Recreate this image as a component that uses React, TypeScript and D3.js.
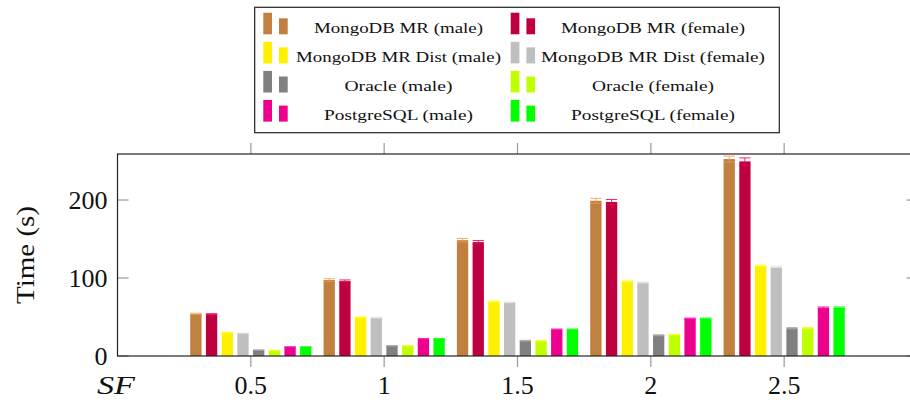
import React from "react";
import * as d3 from "d3";

const sfValues = [0.5, 1, 1.5, 2, 2.5];
const mongoMale = [54, 97.5, 148.5, 199, 252.5];
const mongoFemale = [53.5, 96, 146, 197.5, 249.5];
const distMale = [30, 49.5, 69.5, 95.5, 115.5];
const distFemale = [29.5, 49.5, 69, 94.5, 114.5];
const oracleMale = [7.5, 13, 19.5, 26.5, 35.5];
const oracleFemale = [7, 13, 19, 27, 35.5];
const pgMale = [11.5, 22, 34, 48, 62];
const pgFemale = [11.5, 22, 34, 48, 62];

const mongoMaleErr = [0.8, 1.6, 2.2, 3.2, 3.8];
const mongoFemaleErr = [0.8, 1.5, 2, 3.2, 4.5];
const smallErr = [0.4, 0.5, 0.6, 0.7, 0.9];

const seriesNames = [
  "MongoDB MR (male)",
  "MongoDB MR (female)",
  "MongoDB MR Dist (male)",
  "MongoDB MR Dist (female)",
  "Oracle (male)",
  "Oracle (female)",
  "PostgreSQL (male)",
  "PostgreSQL (female)",
];
const seriesColors = [
  "#BF8040",
  "#BF0040",
  "#FFF000",
  "#BFBFBF",
  "#808080",
  "#BFFF00",
  "#EC008C",
  "#00FF00",
];
const seriesValues = [mongoMale, mongoFemale, distMale, distFemale, oracleMale, oracleFemale, pgMale, pgFemale];
const seriesErrors = [mongoMaleErr, mongoFemaleErr, smallErr, smallErr, smallErr, smallErr, smallErr, smallErr];

const xTicks = [0.5, 1, 1.5, 2, 2.5];
const xTickLabels = ["0.5", "1", "1.5", "2", "2.5"];
const yTicks = [0, 100, 200];

const legendTextWidths = [169, 184, 205, 224, 108, 122, 149, 164];

export default function App() {
  const left = 117.5;
  const right = 917.5;
  const top = 154;
  const bottom = 356;
  const x = d3.scaleLinear().domain([0, 3]).range([left, right]);
  const y = d3.scaleLinear().domain([0, 259]).range([bottom, top]);
  const pitch = 15.7;
  const barW = 11.3;
  const font = "'Liberation Serif', 'DejaVu Serif', serif";

  const rowPitch = 29.1;
  const colIconX = [263.3, 510.7];
  const colTextCenter = [398.5, 653];

  return (
    <svg
      width={910}
      height={403}
      style={{ position: "absolute", left: 0, top: 0, background: "#fff" }}
      fontFamily={font}
    >
      <rect x={0} y={0} width={910} height={403} fill="#fff" />
      {/* bars */}
      {seriesValues.map((vals, si) =>
        vals.map((v, gi) => {
          const cx = x(sfValues[gi]) + (si - 3.5) * pitch;
          return (
            <rect
              key={`b${si}-${gi}`}
              x={cx - barW / 2}
              y={y(v)}
              width={barW}
              height={y(0) - y(v)}
              fill={seriesColors[si]}
            />
          );
        })
      )}
      {/* error bars */}
      {seriesValues.map((vals, si) =>
        vals.map((v, gi) => {
          const cx = x(sfValues[gi]) + (si - 3.5) * pitch;
          const e = seriesErrors[si][gi];
          const c = d3.color(seriesColors[si])!.brighter(0.6).formatHex();
          return (
            <g key={`e${si}-${gi}`} stroke={c} strokeWidth={1} opacity={0.85}>
              <line x1={cx} x2={cx} y1={y(v + e)} y2={y(v - e)} />
              <line x1={cx - barW / 2} x2={cx + barW / 2} y1={y(v + e)} y2={y(v + e)} />
              <line x1={cx - barW / 2} x2={cx + barW / 2} y1={y(v - e)} y2={y(v - e)} />
            </g>
          );
        })
      )}
      {/* x ticks (outside, top and bottom) */}
      {xTicks.map((t) => (
        <g key={`xt${t}`} stroke="#999" strokeWidth={1.2}>
          <line x1={x(t)} x2={x(t)} y1={bottom} y2={bottom + 11} />
          <line x1={x(t)} x2={x(t)} y1={top} y2={top - 11} />
        </g>
      ))}
      {/* y ticks (inside, left and right) */}
      {yTicks.map((t) => (
        <g key={`yt${t}`} stroke="#999" strokeWidth={1.2}>
          <line x1={left} x2={left + 11} y1={y(t)} y2={y(t)} />
          <line x1={right} x2={right - 11} y1={y(t)} y2={y(t)} />
        </g>
      ))}
      {/* frame */}
      <rect x={left} y={top} width={right - left} height={bottom - top} fill="none" stroke="#222" strokeWidth={1.2} />
      {/* tick labels */}
      {xTicks.map((t, i) => (
        <text key={`xl${t}`} x={x(t)} y={393.5} textAnchor="middle" fontSize={26} fill="#111">
          {xTickLabels[i]}
        </text>
      ))}
      {yTicks.map((t) => (
        <text key={`yl${t}`} x={107.5} y={y(t) + 9} textAnchor="end" fontSize={26} fill="#111">
          {t}
        </text>
      ))}
      <text x={97} y={393.5} fontSize={26} fontStyle="italic" fill="#111" textLength={38} lengthAdjust="spacingAndGlyphs">
        SF
      </text>
      <text
        transform={`translate(34, ${(top + bottom) / 2}) rotate(-90)`}
        textAnchor="middle"
        fontSize={26}
        fill="#111"
        textLength={98}
        lengthAdjust="spacingAndGlyphs"
      >
        Time (s)
      </text>
      {/* legend */}
      <rect x={254.7} y={7.3} width={524.6} height={125.4} fill="#fff" stroke="#222" strokeWidth={1.2} />
      {seriesNames.map((name, si) => {
        const col = si % 2;
        const row = Math.floor(si / 2);
        const base = 34.3 + row * rowPitch;
        const ix = colIconX[col];
        const tw = legendTextWidths[si];
        return (
          <g key={`lg${si}`}>
            <rect x={ix} y={base - 21.6} width={8.7} height={21.6} fill={seriesColors[si]} />
            <rect x={ix + 15.7} y={base - 16} width={8.7} height={16} fill={seriesColors[si]} />
            <text
              x={colTextCenter[col]}
              y={base - 1.8}
              textAnchor="middle"
              fontSize={14.5}
              fill="#111"
              textLength={tw}
              lengthAdjust="spacingAndGlyphs"
            >
              {name}
            </text>
          </g>
        );
      })}
    </svg>
  );
}
